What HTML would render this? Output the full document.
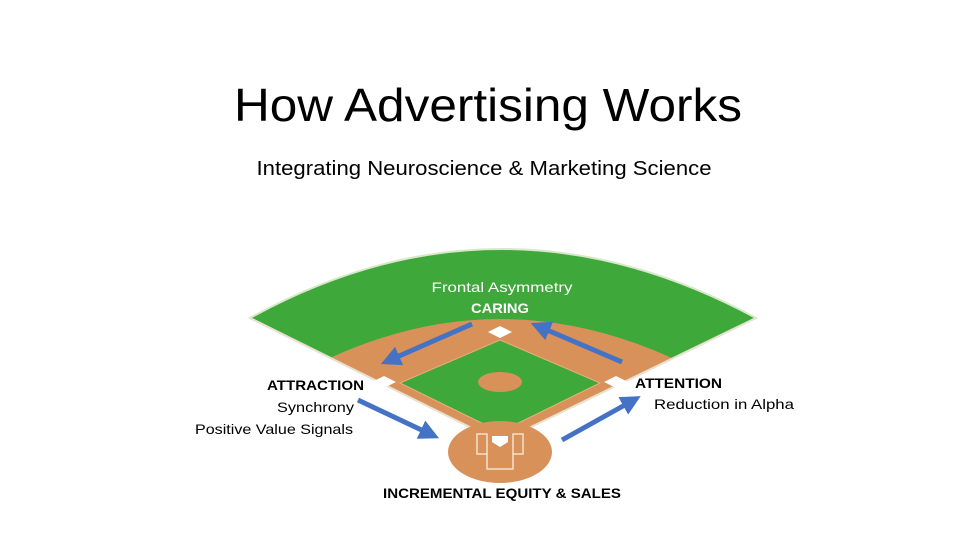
<!DOCTYPE html>
<html><head><meta charset="utf-8"><style>html,body{margin:0;padding:0;background:#fff}svg{display:block}</style></head>
<body>
<svg width="975" height="548" viewBox="0 0 975 548" xmlns="http://www.w3.org/2000/svg" font-family="Liberation Sans, sans-serif">
<rect width="975" height="548" fill="#fff"/>
<text x="488" y="121" font-size="46" text-anchor="middle" textLength="508" lengthAdjust="spacingAndGlyphs" fill="#000">How Advertising Works</text>
<text x="484" y="175" font-size="20" text-anchor="middle" textLength="455" lengthAdjust="spacingAndGlyphs" fill="#000">Integrating Neuroscience &amp; Marketing Science</text>
<!-- outfield -->
<path d="M500,442 L250,318 Q500,180 756,318 Z" fill="#3ea83a" stroke="#d8e8c8" stroke-width="2"/>
<!-- infield dirt -->
<path d="M500,442 L330,358 Q500,280 672,358 Z" fill="#d9915a"/>
<!-- inner grass -->
<path d="M500,340 L600,383 L500,432 L400,383 Z" fill="#3ea83a" stroke="#e6b07c" stroke-width="1"/>
<line x1="500" y1="442" x2="250" y2="318" stroke="#e8e0d0" stroke-width="2"/>
<line x1="500" y1="442" x2="756" y2="318" stroke="#e8e0d0" stroke-width="2"/>
<ellipse cx="500" cy="382" rx="22" ry="10" fill="#d9915a"/>
<ellipse cx="500" cy="452" rx="52" ry="31" fill="#d9915a"/>
<path d="M500,326 L512,332 L500,338 L488,332 Z" fill="#fff"/>
<path d="M384,376 L396,382 L384,388 L372,382 Z" fill="#fff"/>
<path d="M616,376 L628,382 L616,388 L604,382 Z" fill="#fff"/>
<g fill="none" stroke="#f3e3c8" stroke-width="1.5">
<rect x="477" y="434" width="10" height="20"/><rect x="513" y="434" width="10" height="20"/>
<path d="M487,454 L487,469 L513,469 L513,454"/>
</g>
<path d="M492,436 L508,436 L508,442 L500,447 L492,442 Z" fill="#fff"/>
<!-- arrows -->
<defs><marker id="a" markerWidth="4" markerHeight="4" refX="2" refY="2" orient="auto" markerUnits="strokeWidth"><path d="M0,0 L4,2 L0,4 Z" fill="#4472c4"/></marker></defs>
<g stroke="#4472c4" stroke-width="5" marker-end="url(#a)">
<line x1="472" y1="324" x2="390" y2="360"/>
<line x1="622" y1="362" x2="540" y2="327"/>
<line x1="358" y1="400" x2="430" y2="434"/>
<line x1="562" y1="440" x2="632" y2="401"/>
</g>
<g font-size="14">
<text x="502" y="292" fill="#fff" text-anchor="middle" textLength="141" lengthAdjust="spacingAndGlyphs">Frontal Asymmetry</text>
<text x="500" y="313" fill="#fff" font-weight="bold" text-anchor="middle" textLength="58" lengthAdjust="spacingAndGlyphs">CARING</text>
<text x="267" y="390" font-weight="bold" textLength="97" lengthAdjust="spacingAndGlyphs">ATTRACTION</text>
<text x="354" y="412" text-anchor="end" textLength="77" lengthAdjust="spacingAndGlyphs">Synchrony</text>
<text x="353" y="434" text-anchor="end" textLength="158" lengthAdjust="spacingAndGlyphs">Positive Value Signals</text>
<text x="635" y="388" font-weight="bold" textLength="87" lengthAdjust="spacingAndGlyphs">ATTENTION</text>
<text x="654" y="409" textLength="140" lengthAdjust="spacingAndGlyphs">Reduction in Alpha</text>
<text x="502" y="498" font-weight="bold" text-anchor="middle" textLength="238" lengthAdjust="spacingAndGlyphs">INCREMENTAL EQUITY &amp; SALES</text>
</g>
</svg>
</body></html>
